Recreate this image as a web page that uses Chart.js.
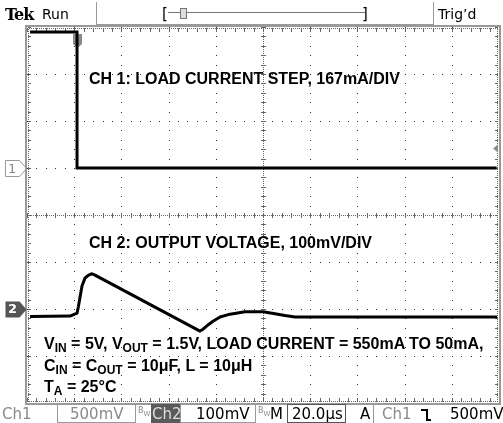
<!DOCTYPE html>
<html>
<head>
<meta charset="utf-8">
<script src="https://cdn.jsdelivr.net/npm/chart.js@4.4.1/dist/chart.umd.min.js"></script>
<style>
body { margin: 0; background: #fff; }
#wrap { position: relative; width: 503px; height: 423px; overflow: hidden; background: #fff; }
#scope { position: absolute; left: 0; top: 0; }
.t { position: absolute; white-space: nowrap; line-height: 1; }
.ann { font: bold 16px "Liberation Sans", Arial, sans-serif; color: #000; }
.sb { font-size: 12px; position: relative; top: 3px; }
.st { font: 15px "DejaVu Sans", sans-serif; color: #000; }
.gr { color: #8a8a8a; }
.box { position: absolute; border: 1px solid #9a9a9a; box-sizing: border-box; }
.vl { position: absolute; width: 1px; background: #9a9a9a; }
.hl { position: absolute; height: 1px; background: #9a9a9a; }
</style>
</head>
<body>
<div id="wrap">
  <canvas id="scope" width="503" height="423"></canvas>

  <!-- header -->
  <div class="t" style="left:5px;top:5px;font:bold 16px 'DejaVu Serif',serif;letter-spacing:-1px;">Tek</div>
  <div class="t" style="left:42px;top:6px;font:14px 'DejaVu Sans',sans-serif;">Run</div>
  <div class="vl" style="left:96px;top:2px;height:23px;"></div>
  <div class="hl" style="left:96px;top:24px;width:338px;"></div>
  <div class="vl" style="left:433px;top:2px;height:23px;"></div>
  <div class="t" style="left:438px;top:6px;font:14px 'DejaVu Sans',sans-serif;">Trig’d</div>
  <div class="t" style="left:162px;top:5px;font:15px 'DejaVu Sans',sans-serif;">[</div>
  <div class="t" style="left:362px;top:5px;font:15px 'DejaVu Sans',sans-serif;">]</div>
  <div class="hl" style="left:168px;top:12px;width:197px;background:#777;"></div>
  <div class="box" style="left:180px;top:8px;width:7px;height:11px;border-color:#777;background:#ddd;"></div>

  <!-- annotations -->
  <div class="t ann" style="left:89px;top:70px;">CH 1: LOAD CURRENT STEP, 167mA/DIV</div>
  <div class="t ann" style="left:89px;top:234px;">CH 2: OUTPUT VOLTAGE, 100mV/DIV</div>
  <div class="t ann" style="left:44px;top:335px;">V<span class="sb">IN</span> = 5V, V<span class="sb">OUT</span> = 1.5V, LOAD CURRENT = 550mA TO 50mA,</div>
  <div class="t ann" style="left:44px;top:357px;">C<span class="sb">IN</span> = C<span class="sb">OUT</span> = 10μF, L = 10μH</div>
  <div class="t ann" style="left:44px;top:378px;">T<span class="sb">A</span> = 25°C</div>

  <!-- channel markers -->
  <div class="t" style="left:8px;top:161px;font:13px 'DejaVu Sans',sans-serif;color:#888;">1</div>
  <div class="t" style="left:8px;top:301px;font:bold 13px 'DejaVu Sans',sans-serif;color:#fff;">2</div>

  <!-- status bar -->
  <div class="t st gr" style="left:2px;top:405px;">Ch1</div>
  <div class="box" style="left:57px;top:404px;width:79px;height:19px;"></div>
  <div class="t st gr" style="left:70px;top:405px;">500mV</div>
  <div class="t gr" style="left:138px;top:406px;font:8px 'DejaVu Sans',sans-serif;">B<sub style="font-size:7px">W</sub></div>
  <div class="box" style="left:151px;top:404px;width:30px;height:19px;background:#5a5a5a;border-color:#5a5a5a;"></div>
  <div class="t st" style="left:152px;top:405px;color:#ddd;">Ch2</div>
  <div class="box" style="left:180px;top:404px;width:76px;height:19px;"></div>
  <div class="t st" style="left:196px;top:405px;">100mV</div>
  <div class="t gr" style="left:258px;top:406px;font:8px 'DejaVu Sans',sans-serif;">B<sub style="font-size:7px">W</sub></div>
  <div class="t st" style="left:270px;top:405px;">M</div>
  <div class="box" style="left:287px;top:404px;width:59px;height:19px;border-color:#555;"></div>
  <div class="t st" style="left:292px;top:405px;">20.0μs</div>
  <div class="t st" style="left:360px;top:405px;">A</div>
  <div class="vl" style="left:373px;top:404px;height:19px;"></div>
  <div class="t st gr" style="left:382px;top:405px;">Ch1</div>
  <!-- falling edge symbol -->
  <div style="position:absolute;left:421px;top:409px;width:5px;height:10px;border-top:2px solid #000;border-right:2px solid #000;"></div>
  <div style="position:absolute;left:426px;top:419px;width:5px;height:0;border-top:2px solid #000;"></div>
  <div class="t st" style="left:450px;top:405px;">500mV</div>
</div>

<script>
// time base and channel scales
var usPerDiv = 20;
var mAPerDiv = 167;
var mVPerDiv = 100;
var ch1Marker = 1;   // div
var ch2Marker = -2;  // div
var trigLevel = 1.43; // div

// CH1 load current (mA, relative to ch1 marker)
var ch1Time = [1.3, 21.2, 21.2, 199];
var ch1Current = [483, 483, 0, 0];

// CH2 output voltage (mV, relative to ch2 marker)
var ch2Time = [1.3, 18.2, 21.2, 21.8, 22.5, 23.3, 24.6, 26.1, 27.5, 28.8, 73.3, 74.6, 76.7, 78.8, 81.8, 86.0, 92.4, 100, 105.1, 109.3, 113.6, 199.2];
var ch2Volt = [-16, -15, -9, 6, 26, 49, 66, 72, 75, 72, -47, -43, -34, -26, -17, -11, -6, -6, -10, -14, -17, -17];

function toPoints(times, vals, perDiv, marker) {
    return times.map(function(t, i) {
        return { x: t, y: marker + vals[i] / perDiv };
    });
}

var graticule = {
    id: 'graticule',
    beforeDatasetsDraw: function(chart) {
        var ctx = chart.ctx, a = chart.chartArea;
        var xs = chart.scales.x, ys = chart.scales.y;
        ctx.save();
        ctx.fillStyle = '#333';
        var t, d, px, py;
        // dotted major lines
        for (t = usPerDiv; t < 200; t += usPerDiv) {
            if (t == 100) continue;
            px = Math.round(xs.getPixelForValue(t));
            for (d = -4; d <= 4.001; d += 0.2) {
                ctx.fillRect(px, Math.round(ys.getPixelForValue(d)), 1, 1);
            }
        }
        for (d = -3; d <= 3; d++) {
            if (d == 0) continue;
            py = Math.round(ys.getPixelForValue(d));
            for (t = 0; t <= 200.001; t += 4) {
                ctx.fillRect(Math.round(xs.getPixelForValue(t)), py, 1, 1);
            }
        }
        // center cross
        var cx = Math.round(xs.getPixelForValue(100));
        var cy = Math.round(ys.getPixelForValue(0));
        ctx.fillStyle = '#666';
        for (px = a.left; px < a.right; px += 2) ctx.fillRect(px, cy, 1, 1);
        for (py = a.top; py < a.bottom; py += 2) ctx.fillRect(cx, py, 1, 1);
        for (t = 0; t <= 200.001; t += 4) {
            ctx.fillRect(Math.round(xs.getPixelForValue(t)), cy - 2, 1, 5);
        }
        for (d = -4; d <= 4.001; d += 0.2) {
            ctx.fillRect(cx - 2, Math.round(ys.getPixelForValue(d)), 5, 1);
        }
        // edge ticks
        for (t = 0; t <= 200.001; t += 4) {
            px = Math.round(xs.getPixelForValue(t));
            ctx.fillRect(px, a.top + 1, 1, 4);
            ctx.fillRect(px, a.bottom - 5, 1, 4);
        }
        for (px = a.left; px < a.right; px += 2) {
            ctx.fillRect(px, a.top + 1, 1, 1);
            ctx.fillRect(px, a.bottom - 2, 1, 1);
        }
        for (d = -4; d <= 4.001; d += 0.2) {
            py = Math.round(ys.getPixelForValue(d));
            ctx.fillRect(a.left + 1, py, 3, 1);
            ctx.fillRect(a.right - 4, py, 3, 1);
        }
        for (py = a.top; py < a.bottom; py += 2) {
            ctx.fillRect(a.left + 1, py, 1, 1);
            ctx.fillRect(a.right - 2, py, 1, 1);
        }
        // frame
        ctx.strokeStyle = '#999';
        ctx.lineWidth = 2;
        ctx.strokeRect(a.left - 1, a.top - 1, a.right - a.left + 2, a.bottom - a.top + 2);

        // channel markers on the left
        function marker(div, fill) {
            var my = Math.round(ys.getPixelForValue(div)) + 0.5;
            ctx.beginPath();
            ctx.moveTo(5.5, my - 8);
            ctx.lineTo(19.5, my - 8);
            ctx.lineTo(26.5, my);
            ctx.lineTo(19.5, my + 8);
            ctx.lineTo(5.5, my + 8);
            ctx.closePath();
            ctx.lineWidth = 1;
            if (fill) { ctx.fillStyle = '#555'; ctx.fill(); }
            else { ctx.strokeStyle = '#999'; ctx.stroke(); }
        }
        marker(ch1Marker, false);
        marker(ch2Marker, true);

        // trigger position marker
        var tx = Math.round(xs.getPixelForValue(ch1Time[1]));
        ctx.fillStyle = '#8a8a8a';
        ctx.fillRect(tx - 4, a.top + 7, 9, 10);
        ctx.beginPath();
        ctx.moveTo(tx - 4, a.top + 17); ctx.lineTo(tx + 5, a.top + 17); ctx.lineTo(tx + 0.5, a.top + 21);
        ctx.closePath(); ctx.fill();
        // trigger level marker on the right
        var ty = Math.round(ys.getPixelForValue(trigLevel)) + 0.5;
        ctx.beginPath();
        ctx.moveTo(a.right - 6, ty); ctx.lineTo(a.right - 1, ty - 4); ctx.lineTo(a.right - 1, ty + 4);
        ctx.closePath(); ctx.fill();
        ctx.restore();
    }
};

var ctx = document.getElementById('scope').getContext('2d');
var scopeChart = new Chart(ctx, {
    type: 'line',
    data: {
        datasets: [{
            label: 'CH1',
            data: toPoints(ch1Time, ch1Current, mAPerDiv, ch1Marker),
            borderColor: '#000',
            borderWidth: 3,
            pointRadius: 0,
            tension: 0,
            fill: false
        }, {
            label: 'CH2',
            data: toPoints(ch2Time, ch2Volt, mVPerDiv, ch2Marker),
            borderColor: '#000',
            borderWidth: 3,
            borderJoinStyle: 'round',
            pointRadius: 0,
            tension: 0,
            fill: false
        }]
    },
    options: {
        responsive: false,
        animation: false,
        devicePixelRatio: 1,
        layout: { padding: { left: 27, right: 4, top: 27, bottom: 20 } },
        plugins: { legend: { display: false }, tooltip: { enabled: false } },
        scales: {
            x: { type: 'linear', min: 0, max: 200, display: false },
            y: { type: 'linear', min: -4, max: 4, display: false }
        }
    },
    plugins: [graticule]
});
</script>
</body>
</html>
